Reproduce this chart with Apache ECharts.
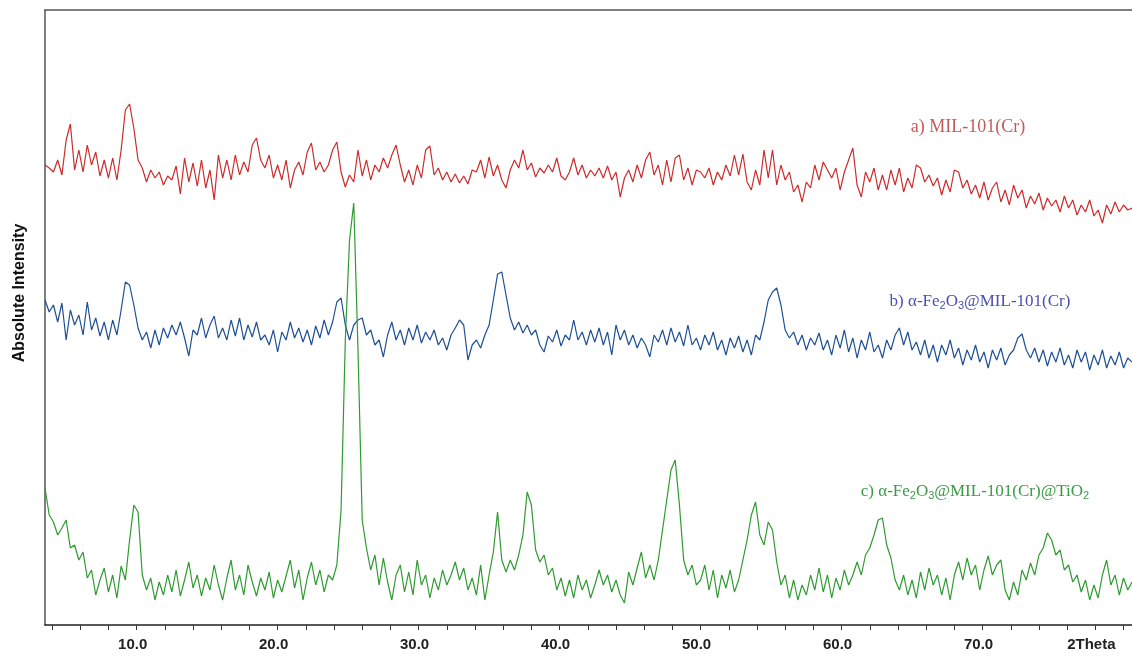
<!DOCTYPE html>
<html>
<head>
<meta charset="utf-8">
<style>
  html, body { margin: 0; padding: 0; background: #fff; }
  #chart { width: 1132px; height: 656px; }
</style>
<script src="https://cdn.jsdelivr.net/npm/echarts@6/dist/echarts.min.js"></script>
</head>
<body>
<div id="chart"></div>
<script>
// scan grid (2Theta, degrees)
const scanStart = 3.5;
const scanStep = 0.3;

// a) MIL-101(Cr)
const intensityA = [
  460,457,453,465,450,485,501,455,475,453, 480,460,473,449,465,447,467,445,475,515,
  521,497,465,457,443,455,447,453,440,449, 445,459,431,467,443,462,439,465,437,455,
  425,470,447,465,445,470,450,463,453,480, 487,465,457,470,447,460,445,465,437,455,
  463,450,473,482,455,463,453,460,475,483, 453,438,450,443,475,449,465,445,460,453,
  467,457,470,480,460,443,455,440,460,447, 475,479,450,457,445,453,443,451,442,449,
  441,455,453,465,447,468,449,460,445,437, 455,465,457,475,455,462,448,457,452,460,
  453,467,449,445,453,467,450,460,447,455, 449,457,447,459,445,453,428,447,455,443,
  460,447,465,473,450,460,440,465,443,467, 470,445,457,440,455,453,447,457,440,453,
  445,460,449,470,450,471,443,435,455,440, 475,447,475,440,460,445,453,433,440,423,
  443,437,460,445,463,455,447,457,435,453, 465,477,440,428,453,443,457,435,450,435,
  455,440,457,433,447,437,460,457,443,450, 439,447,430,445,433,455,453,437,445,431,
  440,427,443,425,437,443,423,435,420,440, 427,435,417,429,421,432,415,427,419,425,
  413,429,417,425,410,420,413,425,409,415, 402,420,411,423,413,420,415,417
];

// b) α-Fe2O3@MIL-101(Cr)
const intensityB = [
  325,313,320,303,322,285,315,300,310,290, 323,295,307,289,303,285,305,290,315,343,
  340,320,297,285,293,277,295,280,297,287, 300,290,303,287,269,295,290,307,287,300,
  309,287,297,285,305,289,307,285,300,288, 303,285,290,280,295,273,293,285,303,287,
  297,283,295,280,299,287,305,290,303,323, 327,300,285,300,305,307,290,295,280,285,
  268,290,303,285,295,280,297,285,300,282, 293,285,295,280,287,275,290,297,305,300,
  265,280,285,277,290,300,325,351,353,330, 307,295,303,292,300,290,295,280,273,289,
  283,295,279,290,285,305,285,293,280,295, 283,297,280,293,270,300,285,295,280,290,
  277,287,280,268,290,283,295,280,297,283, 293,279,300,280,287,275,290,280,293,275,
  285,270,287,277,289,273,285,270,290,285, 303,325,333,337,320,295,287,293,280,290,
  275,287,280,292,275,285,270,290,277,295, 273,287,267,285,275,293,273,280,267,285,
  275,290,297,280,293,275,283,270,285,267, 280,263,280,270,285,267,277,260,275,265,
  280,263,273,257,275,265,277,260,270,275, 287,291,275,267,277,263,275,259,273,263,
  277,260,270,257,275,263,273,255,270,260, 275,257,269,260,273,257,267,263
];

// c) α-Fe2O3@MIL-101(Cr)@TiO2
const intensityC = [
  137,110,103,90,97,105,77,80,65,73, 47,55,30,45,57,33,50,27,59,45,
  85,120,113,50,35,47,25,43,30,50, 33,55,29,45,63,37,50,29,47,35,
  60,40,25,47,65,35,50,30,60,43, 29,47,35,53,27,45,33,49,65,37,
  55,25,47,63,40,55,33,50,45,60, 115,285,385,422,275,105,77,55,70,40,
  67,43,25,50,60,33,53,30,65,40, 50,27,47,35,55,40,50,63,45,57,
  35,47,30,60,25,50,73,113,65,53, 65,55,70,90,133,120,75,63,70,50,
  57,35,47,29,45,27,50,35,45,27, 40,55,40,50,33,45,30,22,53,40,
  57,73,47,60,45,65,95,125,155,165, 120,65,50,60,40,45,60,35,55,27,
  50,37,55,33,45,65,85,110,123,90, 80,103,95,63,40,50,27,45,25,40,
  30,50,35,57,33,50,27,47,35,55, 40,50,63,50,70,77,90,105,107,80,
  67,45,35,50,30,45,27,53,35,57, 40,50,30,47,25,50,63,45,67,50,
  60,35,55,69,50,60,65,35,25,43, 30,55,45,62,50,70,77,92,85,70,
  75,55,60,43,50,33,45,25,40,27, 50,65,40,50,30,47,35,43
];

const labelValues = [10, 20, 30, 40, 50, 60, 70, 78];
const labelTexts = ['10.0', '20.0', '30.0', '40.0', '50.0', '60.0', '70.0', '2Theta'];

const twoTheta = intensityA.map((_, i) => +(scanStart + i * scanStep).toFixed(2));
const pairs = arr => arr.map((v, i) => [twoTheta[i], v]);

const tickValues = [];
for (let t = 4; t <= 80; t += 2) tickValues.push(t);

const chart = echarts.init(document.getElementById('chart'));

const subStyle = { fontSize: 11, verticalAlign: 'bottom', padding: [8, 0, 0, 0] };

const option = {
    animation: false,
    backgroundColor: '#fff',
    grid: { left: 45, right: 0, top: 10, bottom: 31 },
    xAxis: [{
        type: 'value',
        min: 3.5,
        max: 80.6,
        axisLine: { show: true, lineStyle: { color: '#222', width: 1.5 } },
        axisTick: { show: true, customValues: tickValues, length: 5, lineStyle: { color: '#333' } },
        axisLabel: {
            customValues: labelValues,
            formatter: v => labelTexts[labelValues.indexOf(v)],
            fontFamily: 'Liberation Sans',
            fontWeight: 'bold',
            fontSize: 15,
            color: '#222',
            margin: 12,
            padding: [0, 8, 0, 0]
        },
        splitLine: { show: false }
    }, {
        type: 'value',
        position: 'top',
        min: 3.5,
        max: 80.6,
        axisLine: { show: true, onZero: false, lineStyle: { color: '#555', width: 1.5 } },
        axisTick: { show: false },
        axisLabel: { show: false },
        splitLine: { show: false }
    }],
    yAxis: {
        type: 'value',
        min: 0,
        max: 615,
        axisLine: { show: true, lineStyle: { color: '#555', width: 1.5 } },
        axisTick: { show: false },
        axisLabel: { show: false },
        splitLine: { show: false }
    },
    series: [
        { name: 'a) MIL-101(Cr)', type: 'line', data: pairs(intensityA), showSymbol: false,
          lineStyle: { color: '#cc2b2b', width: 1.2 } },
        { name: 'b) α-Fe2O3@MIL-101(Cr)', type: 'line', data: pairs(intensityB), showSymbol: false,
          lineStyle: { color: '#1f4f93', width: 1.2 } },
        { name: 'c) α-Fe2O3@MIL-101(Cr)@TiO2', type: 'line', data: pairs(intensityC), showSymbol: false,
          lineStyle: { color: '#2e9a30', width: 1.2 } }
    ],
    graphic: [
        {
            type: 'text', x: 20, y: 293, rotation: Math.PI / 2,
            style: {
                text: 'Absolute Intensity', fill: '#111',
                font: 'bold 16px "Liberation Sans"', align: 'center', verticalAlign: 'middle'
            }
        },
        {
            type: 'text', x: 968, y: 127,
            style: {
                text: 'a) MIL-101(Cr)', fill: '#c55a5a',
                font: '18px "Liberation Serif"', align: 'center', verticalAlign: 'middle'
            }
        },
        {
            type: 'text', x: 980, y: 302,
            style: {
                text: 'b) α-Fe{s|2}O{s|3}@MIL-101(Cr)', fill: '#4a50b0',
                font: '17px "Liberation Serif"', align: 'center', verticalAlign: 'middle',
                rich: { s: subStyle }
            }
        },
        {
            type: 'text', x: 975, y: 492,
            style: {
                text: 'c) α-Fe{s|2}O{s|3}@MIL-101(Cr)@TiO{s|2}', fill: '#3a9a46',
                font: '17px "Liberation Serif"', align: 'center', verticalAlign: 'middle',
                rich: { s: subStyle }
            }
        }
    ]
};

chart.setOption(option);
</script>
</body>
</html>
